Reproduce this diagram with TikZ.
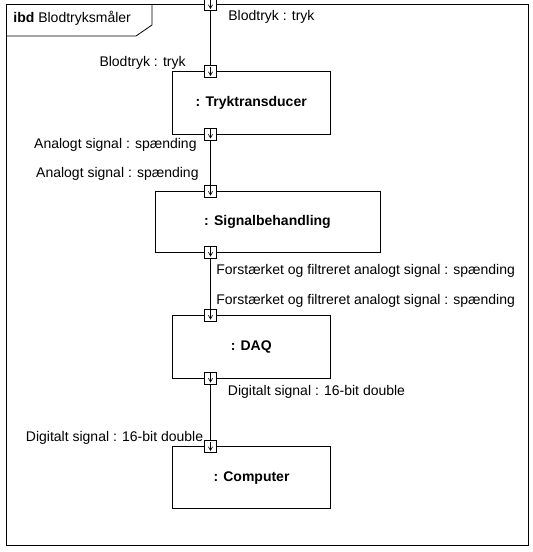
\documentclass[tikz,border=0pt]{standalone}
\usepackage{fontspec}
\setmainfont{Liberation Sans}
\usetikzlibrary{arrows}

\begin{document}
\begin{tikzpicture}[x=1pt,y=-1pt,line width=0.8pt,
	font=\fontsize{14}{16}\selectfont,
	block/.style={draw,inner sep=0pt,minimum width=158pt,minimum height=62.5pt,font=\fontsize{14}{16}\selectfont\bfseries},
	port/.style={draw,fill=white,minimum size=12pt,inner sep=0pt,
		path picture={\draw[->,>=angle 60,line width=0.6pt] ([yshift=-1pt]path picture bounding box.north) -- ([yshift=1.5pt]path picture bounding box.south);}},
	lbl/.style={inner sep=0pt}]
	\useasboundingbox (0,0) rectangle (533,552);
	%
	% frame and its tag
	\draw (6,4.5) rectangle (528,545);
	\draw (6,36) -- (136,36) -- (152,25) -- (152,4.5);
	\node[lbl,anchor=base west] (ibd) at (13,22.5) {\textbf{ibd} Blodtryksmåler};
	%
	% blocks
	\node[block] (TT) at (251.25,102.75) {: Tryktransducer};
	\node[block,minimum width=225pt,minimum height=61pt] (SB) at (267.5,221.5) {: Signalbehandling};
	\node[block,minimum height=63pt] (DAQ) at (251.25,346.5) {: DAQ};
	\node[block] (PC) at (251.5,477.6) {: Computer};
	%
	% ports
	\node[port] (P0) at (210.5,4.5) {};
	\node[port] (P1) at (210.5,71.5) {};
	\node[port] (P2) at (210.5,134) {};
	\node[port] (P3) at (210.5,191) {};
	\node[port] (P4) at (210.5,252) {};
	\node[port] (P5) at (210.5,315) {};
	\node[port] (P6) at (210.5,378) {};
	\node[port] (P7) at (210.5,446.5) {};
	%
	\draw (P0) -- (P1);
	\draw (P2) -- (P3);
	\draw (P4) -- (P5);
	\draw (P6) -- (P7);
	%
	% port labels
	\node[lbl,anchor=base west] (L0) at (228,20) {Blodtryk : tryk};
	\node[lbl,anchor=base east] (L1) at (186,66) {Blodtryk : tryk};
	\node[lbl,anchor=base east] (L2) at (197,148.3) {Analogt signal : spænding};
	\node[lbl,anchor=base east] (L3) at (199,177.3) {Analogt signal : spænding};
	\node[lbl,anchor=base west] (L4) at (216,274) {Forstærket og filtreret analogt signal : spænding};
	\node[lbl,anchor=base west] (L5) at (216,304) {Forstærket og filtreret analogt signal : spænding};
	\node[lbl,anchor=base west] (L6) at (227.5,395.5) {Digitalt signal : 16-bit double};
	\node[lbl,anchor=base east] (L7) at (203.5,441.5) {Digitalt signal : 16-bit double};
\end{tikzpicture}
\end{document}
